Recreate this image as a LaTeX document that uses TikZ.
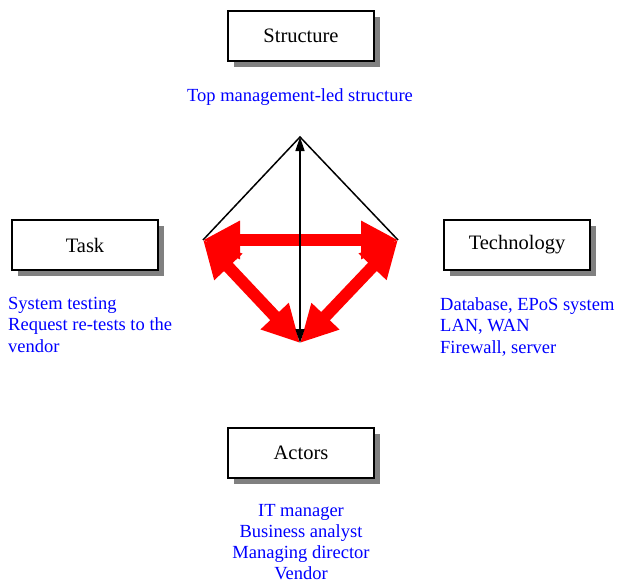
\documentclass[tikz,border=0pt]{standalone}
\usepackage{fontspec}
\setmainfont{Liberation Serif}
\usetikzlibrary{arrows.meta,shadows}
\begin{document}
\begin{tikzpicture}[x=1pt,y=-1pt,
  box/.style={draw=black,line width=1.8pt,fill=white,minimum width=146pt,minimum height=50pt,inner sep=0pt,
    font=\fontsize{20.5}{24}\selectfont,
    drop shadow={shadow xshift=6pt,shadow yshift=-6pt,fill=black!50,opacity=1}},
  note/.style={text=blue,font=\fontsize{18.5}{21.5}\selectfont,inner sep=0pt},
  redarrow/.style={draw=red,line width=12pt,{Triangle[length=37pt,width=36pt]}-{Triangle[length=37pt,width=36pt]}},
  blackarrow/.style={draw=black,line width=1.5pt,{Triangle[length=14pt,width=9pt]}-{Triangle[length=14pt,width=9pt]}},
  edge/.style={draw=black,line width=1.5pt}
  ]
\useasboundingbox (0,0) rectangle (617,583);
\node[box] (structure) at (301,36) {Structure};
\node[box] (task) at (85,245) {Task};
\node[box] (tech) at (517,245) {Technology};
\node[box] (actors) at (301,453) {Actors};

\node[note] (structnote) at (300,97) {Top management-led structure};
\node[note,align=left,anchor=north west] (tasknote) at (8,297) {System testing\\Request re-tests to the\\vendor};
\node[note,align=left,anchor=north west] (technote) at (440,297) {Database, EPoS system\\LAN, WAN\\Firewall, server};
\node[note,align=center,anchor=north,font=\fontsize{18.5}{21}\selectfont] (actorsnote) at (301,504) {IT manager\\Business analyst\\Managing director\\Vendor};

\coordinate (top) at (300,137);
\coordinate (left) at (203,240);
\coordinate (right) at (398,240);
\coordinate (bottom) at (300,343);

\draw[edge] (left) -- (top) -- (right);
\draw[redarrow] (left) -- (right);
\draw[redarrow] (left) -- (bottom);
\draw[redarrow] (right) -- (bottom);
\draw[blackarrow] (bottom) -- (top);
\end{tikzpicture}
\end{document}
